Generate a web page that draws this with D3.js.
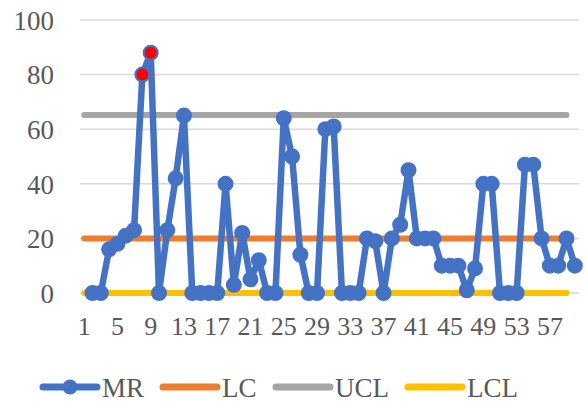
<!DOCTYPE html>
<html><head><meta charset="utf-8">
<script src="https://cdn.jsdelivr.net/npm/d3@7"></script>
<style>body{margin:0;background:#fff}svg{display:block}text{font-family:"Liberation Serif","Times New Roman",serif;fill:#595959}</style>
</head><body><svg id="c" width="587" height="402"></svg>
<script>
const categories = d3.range(1, 61);
const mrValues = [null,0,0,16,18,21,23,80,88,0,23,42,65,0,0,0,0,40,3,22,5,12,0,0,64,50,14,0,0,60,61,0,0,0,20,19,0,20,25,45,20,20,20,10,10,10,1,9,40,40,0,0,0,47,47,20,10,10,20,10];
const lcValue = 19.96, uclValue = 65.2, lclValue = 0;
const limitCount = 59;
const yTicks = [0,20,40,60,80,100];
const xTickLabels = d3.range(1, 61, 4);
const seriesNames = ["MR","LC","UCL","LCL"];
const colors = {MR:"#4472C4", LC:"#ED7D31", UCL:"#A5A5A5", LCL:"#FFC000"};

const svg = d3.select("#c");
const x = d3.scaleBand().domain(categories).range([80, 579]).padding(0);
const cx = d => x(d) + x.bandwidth()/2;
const y = d3.scaleLinear().domain([0,100]).range([293, 20]);

// gridlines
svg.append("g").selectAll("line").data(yTicks).join("line")
  .attr("x1", 80).attr("x2", 579).attr("y1", d=>y(d)).attr("y2", d=>y(d))
  .attr("stroke", "#D9D9D9").attr("stroke-width", 1.5);

// y labels
svg.append("g").selectAll("text").data(yTicks).join("text")
  .attr("x", 54).attr("y", d=>y(d)).attr("dy","0.36em").attr("text-anchor","end")
  .attr("font-size", 27).text(d=>d);

// x labels
svg.append("g").selectAll("text").data(xTickLabels).join("text")
  .attr("x", d=>cx(d)).attr("y", 335).attr("text-anchor","middle")
  .attr("font-size", 26).text(d=>d);

// limit lines
const limCats = categories.slice(0, limitCount);
const limLine = v => d3.line().x(d=>cx(d)).y(()=>y(v))(limCats);
[["LC",lcValue],["UCL",uclValue],["LCL",lclValue]].forEach(([n,v])=>{
  svg.append("path").attr("d", limLine(v)).attr("fill","none")
    .attr("stroke", colors[n]).attr("stroke-width", 6).attr("stroke-linecap","round");
});

// MR line
const pts = categories.map((c,i)=>({c, v: mrValues[i]})).filter(d=>d.v!=null);
svg.append("path").datum(pts)
  .attr("d", d3.line().x(d=>cx(d.c)).y(d=>y(d.v)))
  .attr("fill","none").attr("stroke", colors.MR).attr("stroke-width", 6.5)
  .attr("stroke-linejoin","round");
svg.append("g").selectAll("circle").data(pts).join("circle")
  .attr("cx", d=>cx(d.c)).attr("cy", d=>y(d.v)).attr("r", 7)
  .attr("fill", d=> d.v > uclValue ? "#FF0000" : colors.MR)
  .attr("stroke", colors.MR).attr("stroke-width", 2);

// legend
const legX = [40, 160, 273, 405];
const lg = svg.append("g");
seriesNames.forEach((n,i)=>{
  const x0 = legX[i];
  lg.append("line").attr("x1", x0+3).attr("x2", x0+57).attr("y1", 387).attr("y2", 387)
    .attr("stroke", colors[n]).attr("stroke-width", 7).attr("stroke-linecap","round");
  if (n === "MR") lg.append("circle").attr("cx", x0+30).attr("cy", 387).attr("r", 7.5).attr("fill", colors.MR);
  lg.append("text").attr("x", x0+62).attr("y", 397).attr("font-size", 27).text(n);
});
</script></body></html>
